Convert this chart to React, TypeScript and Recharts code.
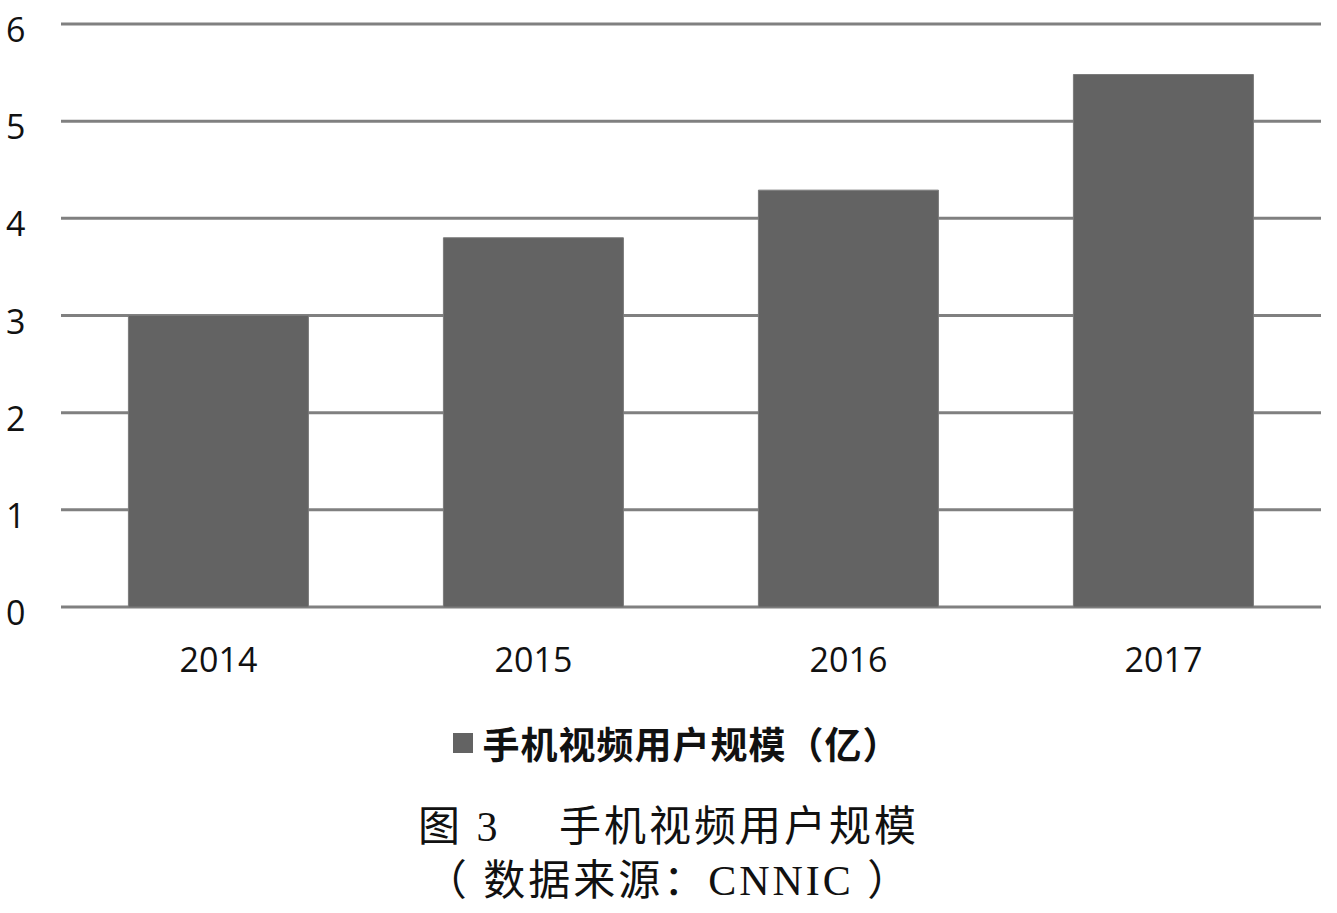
import { BarChart, Bar, XAxis, YAxis, CartesianGrid, Legend } from "recharts";

const years = ["2014", "2015", "2016", "2017"];
const users = [3.0, 3.8, 4.29, 5.48];
const yTicks = [0, 1, 2, 3, 4, 5, 6];
const seriesName = "手机视频用户规模（亿）";
const captionTitle = "图 3\u3000 手机视频用户规模";
const captionSource = "（ 数据来源：CNNIC ）";

const data = years.map((year, i) => ({ year, users: users[i] }));

const BAR = "#636363";
const GRID = "#808080";
const SANS = '"Open Sans", "Noto Sans", sans-serif';

function YTick(props: { y?: number; payload?: { value: number } }) {
  return (
    <text x={6} y={props.y} dy={18} textAnchor="start" fontSize={34} fontFamily={SANS} fill="#111">
      {props.payload?.value}
    </text>
  );
}

function LegendBox() {
  return (
    <div style={{ height: 50, display: "flex", alignItems: "center", justifyContent: "center", paddingLeft: 32 }}>
      <span style={{ width: 20, height: 20, background: BAR, marginRight: 10 }} />
      <span
        style={{
          fontFamily: '"Noto Sans CJK SC", sans-serif',
          fontWeight: 700,
          fontSize: 37,
          letterSpacing: 1,
          color: "#111",
        }}
      >
        {seriesName}
      </span>
    </div>
  );
}

export default function App() {
  return (
    <div style={{ position: "absolute", left: 0, top: 0, width: 1337, height: 913, background: "#fff" }}>
      <BarChart
        width={1337}
        height={780}
        data={data}
        margin={{ top: 24, right: 16, left: 0, bottom: 12 }}
        barCategoryGap="21.4%"
      >
        <CartesianGrid vertical={false} stroke={GRID} strokeWidth={3} />
        <XAxis
          dataKey="year"
          height={111}
          axisLine={false}
          tickLine={false}
          tickSize={0}
          tickMargin={41}
          tick={{ fontSize: 34, fontFamily: SANS, fill: "#111" }}
        />
        <YAxis
          width={61}
          domain={[0, 6]}
          ticks={yTicks}
          axisLine={false}
          tickLine={false}
          tick={<YTick />}
        />
        <Legend verticalAlign="bottom" content={<LegendBox />} />
        <Bar dataKey="users" name={seriesName} fill={BAR} stroke="#7a7a7a" strokeWidth={1} isAnimationActive={false} />
      </BarChart>
      <div
        style={{
          position: "absolute",
          top: 800,
          left: 0,
          width: 1337,
          textAlign: "center",
          fontFamily: '"Liberation Serif", "Noto Sans CJK SC", serif',
          fontSize: 42,
          lineHeight: "54px",
          letterSpacing: 3,
          color: "#111",
        }}
      >
        <div>{captionTitle}</div>
        <div>{captionSource}</div>
      </div>
    </div>
  );
}
